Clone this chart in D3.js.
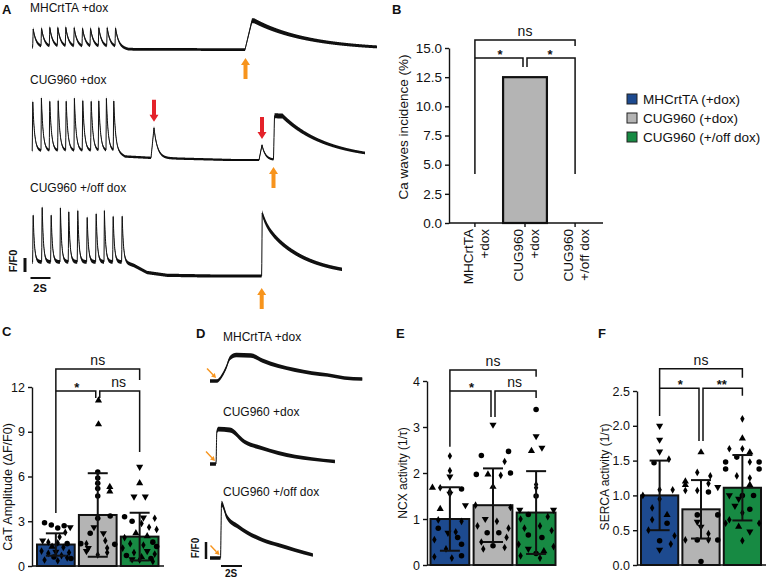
<!DOCTYPE html>
<html><head><meta charset="utf-8">
<script src="https://cdn.jsdelivr.net/npm/d3@7"></script>
<style>
body{margin:0;background:#fff}
text{font-family:"Liberation Sans",Arial,Helvetica,sans-serif;fill:#111}
</style>
</head><body>
<svg id="fig" width="766" height="578"></svg>
<script>
// ================= DATA =================
const groupNames = ["MHCrtTA (+dox)", "CUG960 (+dox)", "CUG960 (+/off dox)"];
const groupColors = ["#1d4a8f", "#b4b4b4", "#178a43"];

// ---- Panel A : Ca traces (time in s, signal in F/F0 scale-bar units) ----
const traceLabelsA = ["MHCrtTA +dox", "CUG960 +dox", "CUG960 +/off dox"];
const traceEndA = [34.5, 33.3, 31.0];
const paceTimesA1 = [0.07,0.9,1.73,2.53,3.33,4.17,5.0,5.8,6.63,7.47,8.3];
const paceAmpsA1  = [1.3,1.3,1.32,1.3,1.32,1.3,1.3,1.28,1.3,1.3,1.32];
const baseA1 = [[0,0.2],[8.4,0.2],[9.6,0.05],[34.5,0]];
const wavesA1 = [[21.3,2.07,0.7,0.2,5.5]];           // [onset, amp, rise, hold, tau]
const paceTimesA2 = [0.03,0.9,1.73,2.57,3.37,4.2,5.03,5.87,6.63,7.4,8.13];
const paceAmpsA2  = [3.7,3.75,3.7,3.75,3.7,3.72,3.75,3.7,3.72,3.7,3.7];
const baseA2 = [[0,0.65],[8.3,0.65],[9.3,0.25],[12,0.15],[20,0],[33.3,0]];
const wavesA2 = [[11.9,2.15,0.3,0,0.35],[22.7,1.07,0.3,0,0.35],[24.15,3.14,0.1,0.8,4.5]];
const paceTimesA3 = [0.07,0.97,1.87,2.8,3.63,4.53,5.47,6.37,7.2,8.07,8.97];
const paceAmpsA3  = [3.6,4.2,3.6,3.86,3.86,3.95,3.43,3.71,3.66,3.5,3.52];
const baseA3 = [[0,1.0],[9.2,1.0],[10.2,0.75],[11.5,0.25],[13.5,0.05],[18,0],[31,0]];
const wavesA3 = [[22.97,0.6,0.05,0,0.4],[22.97,3.9,0.05,0,3.8]];
const paceKineticsA = [[0.05,0.3],[0.04,0.18],[0.04,0.13]];   // [rise, tau]

// ---- Panel B : Ca waves incidence ----
const waveCategories = [["MHCrtTA","+dox"],["CUG960","+dox"],["CUG960","+/off dox"]];
const waveIncidence = [0, 12.5, 0];
const waveTicks = [0, 2.5, 5, 7.5, 10, 12.5, 15];

// ---- Panel C : CaT amplitude ----
const catMean = [1.44, 3.42, 1.97];
const catSD = [0.75, 2.8, 1.6];
const catTicks = [0, 3, 6, 9, 12];
const catPoints = [
 [[2.9,-0.3,'c'],[2.75,-0.12,'c'],[2.55,0.05,'c'],[2.7,0.22,'c'],[2.6,0.38,'v'],[2.25,0.25,'d'],[1.95,0.1,'d'],[1.7,-0.35,'v'],[1.6,-0.2,'d'],[1.55,0.05,'d'],[1.5,0.3,'c'],[1.3,-0.1,'u'],[1.25,0.2,'d'],[1.0,-0.38,'d'],[0.95,0.0,'v'],[0.9,0.35,'d'],[0.85,-0.2,'d'],[0.7,0.15,'d'],[0.6,-0.05,'c'],[0.55,0.3,'d'],[0.4,-0.3,'d'],[0.35,0.05,'d'],[0.5,0.4,'c']],
 [[11.1,0.02,'u'],[9.5,0.02,'u'],[6.3,0.0,'c'],[5.9,0.0,'c'],[5.55,0.0,'c'],[5.3,0.32,'u'],[5.2,0.0,'c'],[5.0,0.32,'u'],[4.7,0.0,'c'],[3.35,0.33,'c'],[3.2,0.0,'c'],[2.6,-0.1,'v'],[2.2,-0.2,'c'],[2.2,0.15,'v'],[1.7,0.2,'d'],[1.5,-0.3,'d'],[1.5,-0.45,'c'],[1.45,0.45,'c'],[1.2,-0.25,'v'],[1.2,0.25,'d'],[1.0,-0.3,'v'],[0.9,0.25,'d'],[0.75,0.0,'d']],
 [[6.65,0.0,'v'],[5.55,0.0,'u'],[4.65,-0.15,'v'],[4.65,0.15,'v'],[3.3,-0.4,'c'],[3.25,0.1,'v'],[3.2,0.4,'d'],[3.0,-0.2,'c'],[2.85,0.05,'d'],[2.6,0.25,'d'],[2.45,0.45,'d'],[2.2,-0.1,'u'],[2.0,0.2,'u'],[1.9,-0.4,'d'],[1.6,0.35,'c'],[1.5,-0.25,'d'],[1.4,0.1,'d'],[1.3,0.45,'c'],[1.2,-0.45,'d'],[1.0,0.2,'v'],[0.9,-0.15,'d'],[0.8,0.4,'d'],[0.7,-0.35,'c'],[0.6,0.05,'u'],[0.5,0.3,'c'],[0.45,-0.2,'v'],[0.4,0.0,'d'],[0.3,0.35,'d']]
];

// ---- Panel D : single-wave traces (time s, F/F0 units) ----
const traceLabelsD = ["MHCrtTA +dox", "CUG960 +dox", "CUG960 +/off dox"];
const traceD1 = [[0,0],[0.67,0],[1.0,0.18],[1.52,0.76],[1.9,1.35],[2.5,1.53],[3.9,1.5],[5.0,1.2],[6.5,0.88],[8.1,0.65],[9.7,0.47],[11.2,0.35],[12.8,0.18],[14.5,0.12]];
const traceD2 = [[0,0],[0.57,0],[0.65,1.9],[0.8,2.05],[1.9,2.0],[3.3,1.3],[4.9,0.94],[6.5,0.65],[8.1,0.43],[9.7,0.29],[11.9,0.14]];
const traceD3 = [[0,0],[1.0,0],[1.1,3.2],[1.6,2.43],[2.7,1.84],[5.0,1.06],[6.5,0.76],[8.1,0.47],[9.8,0.18]];
const onsetD = [0.67, 0.57, 1.0];

// ---- Panel E : NCX activity ----
const ncxMean = [1.0, 1.3, 1.14];
const ncxSD = [0.69, 0.8, 0.9];
const ncxTicks = [0, 1, 2, 3, 4];
const ncxPoints = [
 [[2.37,0.0,'d'],[2.05,0.0,'d'],[1.92,0.0,'v'],[1.68,-0.45,'u'],[1.68,-0.25,'d'],[1.65,0.3,'c'],[1.6,0.0,'d'],[1.55,0.0,'v'],[1.3,0.4,'v'],[1.22,-0.25,'u'],[0.98,-0.3,'d'],[0.95,0.3,'d'],[0.8,-0.3,'c'],[0.72,0.15,'d'],[0.7,-0.05,'v'],[0.6,0.2,'c'],[0.55,-0.4,'d'],[0.45,0.3,'c'],[0.35,-0.1,'d'],[0.2,0.3,'c'],[0.18,-0.4,'d'],[0.15,0.05,'d']],
 [[3.05,0.0,'v'],[2.47,0.4,'c'],[2.38,-0.3,'c'],[2.25,0.3,'d'],[1.97,-0.43,'c'],[2.0,0.45,'c'],[1.97,-0.13,'u'],[1.95,0.2,'d'],[1.7,0.0,'u'],[1.3,-0.45,'d'],[1.25,0.45,'d'],[1.0,-0.2,'v'],[0.95,0.1,'d'],[0.85,-0.4,'d'],[0.8,0.4,'d'],[0.7,-0.15,'c'],[0.7,0.15,'c'],[0.6,0.35,'d'],[0.5,-0.3,'d'],[0.42,0.0,'c'],[0.38,0.3,'d'],[0.35,-0.25,'d']],
 [[3.38,0.0,'c'],[2.8,0.0,'v'],[2.55,0.15,'v'],[2.48,-0.12,'u'],[1.75,0.0,'d'],[1.68,0.0,'d'],[1.5,0.0,'c'],[1.2,-0.42,'v'],[1.2,0.45,'v'],[1.1,-0.2,'c'],[1.05,0.3,'d'],[1.0,-0.4,'d'],[0.85,0.1,'d'],[0.8,-0.3,'d'],[0.75,0.4,'d'],[0.65,-0.2,'c'],[0.6,0.15,'c'],[0.45,-0.45,'d'],[0.4,0.45,'d'],[0.35,-0.2,'v'],[0.3,0.2,'u'],[0.25,0.0,'c'],[0.2,-0.4,'d'],[0.15,0.1,'d']]
];

// ---- Panel F : SERCA activity ----
const sercaMean = [1.0, 0.8, 1.11];
const sercaSD = [0.5, 0.42, 0.47];
const sercaTicks = [0, 0.5, 1.0, 1.5, 2.0, 2.5];
const sercaPoints = [
 [[2.0,0.0,'v'],[1.8,0.0,'v'],[1.63,0.0,'v'],[1.47,-0.15,'c'],[1.52,0.25,'d'],[1.08,0.0,'d'],[1.08,0.35,'d'],[1.0,-0.45,'d'],[0.95,0.0,'d'],[0.82,-0.2,'d'],[0.72,0.2,'u'],[0.65,-0.2,'d'],[0.6,0.2,'c'],[0.5,-0.3,'d'],[0.42,0.4,'d'],[0.35,0.0,'c'],[0.3,0.3,'d'],[0.22,0.0,'v']],
 [[1.62,0.0,'u'],[1.33,-0.1,'d'],[1.28,0.25,'d'],[1.2,-0.42,'u'],[1.15,-0.42,'u'],[1.17,0.2,'d'],[1.12,0.45,'v'],[1.07,-0.42,'d'],[1.07,-0.1,'d'],[1.05,0.2,'c'],[0.72,-0.1,'c'],[0.72,0.45,'c'],[0.62,-0.1,'v'],[0.55,0.0,'v'],[0.45,0.2,'d'],[0.36,-0.42,'d'],[0.36,-0.1,'c'],[0.36,0.2,'d'],[0.36,0.45,'c'],[0.05,0.0,'c']],
 [[2.1,0.0,'d'],[1.82,0.0,'u'],[1.67,-0.35,'d'],[1.67,0.0,'d'],[1.62,0.2,'u'],[1.55,-0.15,'c'],[1.48,-0.45,'c'],[1.48,0.45,'c'],[1.48,0.2,'d'],[1.38,-0.45,'c'],[1.38,0.45,'c'],[1.28,-0.15,'d'],[1.25,0.2,'d'],[1.15,0.2,'u'],[1.0,-0.35,'v'],[1.0,0.0,'c'],[1.0,0.3,'c'],[0.95,-0.1,'v'],[0.85,-0.2,'v'],[0.8,0.2,'c'],[0.75,0.0,'d'],[0.65,-0.35,'d'],[0.6,-0.45,'d'],[0.6,0.45,'d'],[0.55,-0.1,'u'],[0.48,0.2,'v'],[0.35,0.0,'d']]
];

// significance brackets: [top, topRightEnd, mid, leftEnd, midEnd, rightEnd] (data units) + labels
const sigB = [15.69, 15.17, 14.14, 4.2, 13.37, 4.2];   const sigLabB = ["ns","*","*"];
const sigC = [13.2, 12.47, 11.73, 3.55, 11.26, 7.64];  const sigLabC = ["ns","*","ns"];
const sigE = [4.24, 4.09, 3.78, 2.57, 3.22, 3.63];     const sigLabE = ["ns","*","ns"];
const sigF = [2.82, 2.69, 2.54, 2.14, 1.78, 2.43];     const sigLabF = ["ns","*","**"];

// ================= DRAWING =================
const svg = d3.select("#fig");
const ORANGE = "#f7941d", RED = "#e4222a";

function panelLetter(t, x, y){
  svg.append("text").attr("x", x).attr("y", y).text(t)
    .attr("font-size", 13).attr("font-weight", "bold");
}

function upArrow(g, x, yTip, len, color){
  const hw = 4.5, hl = 7, sw = 2;
  g.append("path").attr("fill", color)
   .attr("d", `M${x},${yTip} L${x+hw},${yTip+hl} L${x+sw},${yTip+hl} L${x+sw},${yTip+len} L${x-sw},${yTip+len} L${x-sw},${yTip+hl} L${x-hw},${yTip+hl} Z`);
}
function downArrow(g, x, yTip, len, color){
  const hw = 4.5, hl = 7, sw = 2;
  g.append("path").attr("fill", color)
   .attr("d", `M${x},${yTip} L${x+hw},${yTip-hl} L${x+sw},${yTip-hl} L${x+sw},${yTip-len} L${x-sw},${yTip-len} L${x-sw},${yTip-hl} L${x-hw},${yTip-hl} Z`);
}
function diagArrow(g, x1, y1, x2, y2, color){
  const ang = Math.atan2(y2-y1, x2-x1), hl = 4.5, hw = 2.6;
  const bx = x2 - hl*Math.cos(ang), by = y2 - hl*Math.sin(ang);
  g.append("line").attr("x1",x1).attr("y1",y1).attr("x2",bx).attr("y2",by)
   .attr("stroke", color).attr("stroke-width", 1.4);
  g.append("path").attr("fill", color).attr("d",
    `M${x2},${y2} L${bx - hw*Math.sin(ang)},${by + hw*Math.cos(ang)} L${bx + hw*Math.sin(ang)},${by - hw*Math.cos(ang)} Z`);
}

// ---------- Panel A ----------
panelLetter("A", 2, 14);
const gA = svg.append("g");
const traceCfgA = [
  {pace: paceTimesA1, amps: paceAmpsA1, kin: paceKineticsA[0], base: baseA1, waves: wavesA1, end: traceEndA[0]},
  {pace: paceTimesA2, amps: paceAmpsA2, kin: paceKineticsA[1], base: baseA2, waves: wavesA2, end: traceEndA[1]},
  {pace: paceTimesA3, amps: paceAmpsA3, kin: paceKineticsA[2], base: baseA3, waves: wavesA3, end: traceEndA[2]}
];
const restYA = [50, 160, 276], labelYA = [12, 84, 192];
const noiseA = [[1.35, 0.55], [1.1, 0.45], [1.6, 0.3]];
const xA = d3.scaleLinear().domain([0, 34.5]).range([32, 377]);

function kernel(t, ev){
  const [t0, amp, rise, hold, tau] = ev;
  if (t < t0) return 0;
  if (t < t0 + rise) return amp * (t - t0) / rise;
  if (t < t0 + rise + hold) return amp;
  return amp * Math.exp(-(t - t0 - rise - hold) / tau);
}
function traceValue(cfg, t){
  const base = d3.scaleLinear().domain(cfg.base.map(d => d[0])).range(cfg.base.map(d => d[1])).clamp(true);
  let v = base(t);
  cfg.pace.forEach((t0, i) => { v += kernel(t, [t0, cfg.amps[i], cfg.kin[0], 0, cfg.kin[1]]); });
  cfg.waves.forEach(ev => { v += kernel(t, ev); });
  return v;
}

traceCfgA.forEach((cfg, i) => {
  const y = d3.scaleLinear().domain([0, 1]).range([restYA[i], restYA[i] - 14]);
  const pts = d3.range(0, cfg.end + 1e-9, 0.02).map(t => [t, traceValue(cfg, t)]);
  const [n0, n1] = noiseA[i];
  gA.append("path").datum(pts)
    .attr("d", d3.area().x(d => xA(d[0])).y0(d => y(d[1]) + n0 + n1*Math.max(d[1],0)).y1(d => y(d[1]) - n0 - n1*Math.max(d[1],0)))
    .attr("fill", "#111");
  gA.append("path").datum(pts)
    .attr("d", d3.line().x(d => xA(d[0])).y(d => y(d[1])))
    .attr("fill", "none").attr("stroke", "#111").attr("stroke-width", 1);
  gA.append("text").attr("x", 30).attr("y", labelYA[i]).attr("font-size", 12).text(traceLabelsA[i]);
  // orange arrow under the big wave
  const big = cfg.waves[cfg.waves.length - 1];
  const gap = [8, 7, 12][i];
  upArrow(gA, xA(big[0]) + (i === 0 ? 0.5 : 0), restYA[i] + gap, 21, ORANGE);
  // red arrows over spontaneous events in CUG960 +dox
  if (i === 1) {
    cfg.waves.slice(0, 2).forEach(ev => {
      const tp = ev[0] + ev[2];
      downArrow(gA, xA(tp), y(traceValue(cfg, tp)) - 6, 22, RED);
    });
  }
});
// scale bars A
gA.append("line").attr("x1", 25).attr("x2", 25).attr("y1", 258).attr("y2", 272).attr("stroke", "#111").attr("stroke-width", 3);
gA.append("line").attr("x1", xA(-0.15)).attr("x2", xA(1.85)).attr("y1", 278).attr("y2", 278).attr("stroke", "#111").attr("stroke-width", 2);
gA.append("text").attr("transform", "translate(17,261) rotate(-90)").attr("text-anchor", "middle")
  .attr("font-size", 11).attr("font-weight", "bold").text("F/F0");
gA.append("text").attr("x", 40).attr("y", 292).attr("text-anchor", "middle")
  .attr("font-size", 11).attr("font-weight", "bold").text("2S");

// ---------- Panel B ----------
panelLetter("B", 392, 14);
const gB = svg.append("g");
const yB = d3.scaleLinear().domain([0, 15]).range([223, 48]);
const xB = d3.scaleBand().domain(d3.range(3)).range([453, 597]).paddingInner(0.125).paddingOuter(0);
gB.append("g").attr("transform", "translate(449,0)")
  .call(d3.axisLeft(yB).tickValues(waveTicks).tickFormat(d3.format(".1f")).tickSize(4).tickSizeOuter(0).tickPadding(3))
  .call(g => g.selectAll("text").attr("font-size", 13.5).style("font-family", "Liberation Sans, Arial, sans-serif").attr("fill", "#111"))
  .call(g => g.selectAll("line,path").attr("stroke", "#111").attr("stroke-width", 1.4));
gB.append("line").attr("x1", 449).attr("x2", 603).attr("y1", yB(0)).attr("y2", yB(0)).attr("stroke", "#111").attr("stroke-width", 1.4);
waveIncidence.forEach((v, i) => {
  const cx = xB(i) + xB.bandwidth()/2;
  gB.append("line").attr("x1", cx).attr("x2", cx).attr("y1", yB(0)).attr("y2", yB(0)+4).attr("stroke", "#111").attr("stroke-width", 1.4);
  if (v > 0) gB.append("rect").attr("x", xB(i)).attr("y", yB(v)).attr("width", xB.bandwidth()).attr("height", yB(0) - yB(v))
      .attr("fill", groupColors[i]).attr("stroke", "#111").attr("stroke-width", 2.2);
  waveCategories[i].forEach((line, k) => {
    gB.append("text").attr("transform", `translate(${cx + (k === 0 ? -7 : 9)},229) rotate(-90)`)
      .attr("text-anchor", "end").attr("dy", "0.35em").attr("font-size", 13.5).text(line);
  });
});
gB.append("text").attr("transform", "translate(403,127) rotate(-90)").attr("text-anchor", "middle")
  .attr("dy", "0.35em").attr("font-size", 13.5).text("Ca waves incidence (%)");

// legend
groupNames.forEach((n, i) => {
  const yy = 99 + i * 19;
  svg.append("rect").attr("x", 627).attr("y", yy - 5).attr("width", 10).attr("height", 10)
    .attr("fill", groupColors[i]).attr("stroke", "#222").attr("stroke-width", 1);
  svg.append("text").attr("x", 643).attr("y", yy).attr("dy", "0.36em").attr("font-size", 13.5).text(n);
});

function brackets(g, xc, y, sig, labs, fs){
  const [top, topR, mid, lEnd, mEnd, rEnd] = sig;
  const [x0, x1, x2] = xc;
  g.append("path").attr("fill", "none").attr("stroke", "#111").attr("stroke-width", 1.5)
    .attr("d", `M${x0},${y(lEnd)} V${y(top)} H${x2} V${y(topR)}`);
  g.append("path").attr("fill", "none").attr("stroke", "#111").attr("stroke-width", 1.5)
    .attr("d", `M${x0},${y(mid)} H${x1-2} V${y(mEnd)} M${x1+2},${y(mEnd)} V${y(mid)} H${x2} V${y(rEnd)}`);
  g.append("text").attr("x", x1).attr("y", y(top) - 4).attr("text-anchor", "middle").attr("font-size", fs).text(labs[0]);
  [[labs[1], (x0+x1)/2], [labs[2], (x1+x2)/2]].forEach(([t, xx]) => {
    const star = t.indexOf("*") >= 0;
    g.append("text").attr("x", xx).attr("y", y(mid) + (star ? 1 : -4)).attr("text-anchor", "middle")
      .attr("font-size", star ? fs - 1 : fs).attr("font-weight", star ? "bold" : "normal").text(t);
  });
}
brackets(gB, d3.range(3).map(i => xB(i) + xB.bandwidth()/2), yB, sigB, sigLabB, 14);

// ---------- Bar+scatter panels C, E, F ----------
const shapeType = {c: d3.symbolCircle, u: d3.symbolTriangle, v: d3.symbolTriangle, d: d3.symbolDiamond};
const shapeSize = {c: 24, u: 22, v: 22, d: 17};

function barPanel(cfg){
  const g = svg.append("g");
  const y = d3.scaleLinear().domain(cfg.yDomain).range(cfg.yRange);
  const x = d3.scaleBand().domain(d3.range(3)).range(cfg.xRange).paddingInner(0.1).paddingOuter(0);
  const bw = x.bandwidth();
  g.append("g").attr("transform", `translate(${cfg.axisX},0)`)
    .call(d3.axisLeft(y).tickValues(cfg.ticks).tickFormat(cfg.fmt).tickSize(4).tickSizeOuter(0).tickPadding(3))
    .call(a => a.selectAll("text").attr("font-size", 12.5).style("font-family", "Liberation Sans, Arial, sans-serif").attr("fill", "#111"))
    .call(a => a.selectAll("line,path").attr("stroke", "#111").attr("stroke-width", 1.4));
  g.append("line").attr("x1", cfg.axisX).attr("x2", cfg.xEnd).attr("y1", y(0)).attr("y2", y(0)).attr("stroke", "#111").attr("stroke-width", 1.6);
  cfg.means.forEach((m, i) => {
    g.append("rect").attr("x", x(i)).attr("y", y(m)).attr("width", bw).attr("height", y(0) - y(m))
      .attr("fill", groupColors[i]).attr("stroke", "#111").attr("stroke-width", 2);
  });
  cfg.points.forEach((arr, i) => {
    const cx = x(i) + bw/2;
    arr.forEach(([v, j, s]) => {
      g.append("path").attr("d", d3.symbol().type(shapeType[s]).size(shapeSize[s])())
        .attr("transform", `translate(${cx + j*bw},${y(v)})${s === 'v' ? ' rotate(180)' : ''}`)
        .attr("fill", "#000");
    });
  });
  cfg.means.forEach((m, i) => {
    const cx = x(i) + bw/2, lo = m - cfg.sds[i], hi = m + cfg.sds[i];
    g.append("line").attr("x1", cx).attr("x2", cx).attr("y1", y(lo)).attr("y2", y(hi)).attr("stroke", "#111").attr("stroke-width", 2);
    [lo, hi].forEach(v => g.append("line").attr("x1", cx - 10).attr("x2", cx + 10).attr("y1", y(v)).attr("y2", y(v))
      .attr("stroke", "#111").attr("stroke-width", 2));
  });
  brackets(g, d3.range(3).map(i => x(i) + bw/2), y, cfg.sig, cfg.sigLab, 14);
  g.append("text").attr("transform", `translate(${cfg.labelPos[0]},${cfg.labelPos[1]}) rotate(-90)`)
    .attr("text-anchor", "middle").attr("dy", "0.35em").attr("font-size", cfg.labelSize).text(cfg.label);
}

panelLetter("C", 2, 336);
barPanel({yDomain: [0, 12], yRange: [566, 387], ticks: catTicks, fmt: d3.format("d"), axisX: 32, xEnd: 164,
  xRange: [37, 158.5], means: catMean, sds: catSD, points: catPoints, sig: sigC, sigLab: sigLabC,
  label: "CaT Amplitude (\u0394F/F0)", labelPos: [8, 487], labelSize: 12.5});

panelLetter("E", 396, 338);
barPanel({yDomain: [0, 4], yRange: [565, 381], ticks: ncxTicks, fmt: d3.format("d"), axisX: 427, xEnd: 555,
  xRange: [430.5, 555.5], means: ncxMean, sds: ncxSD, points: ncxPoints, sig: sigE, sigLab: sigLabE,
  label: "NCX activity (1/\u03C4)", labelPos: [403, 473], labelSize: 12});

panelLetter("F", 598, 338);
barPanel({yDomain: [0, 2.5], yRange: [565, 391], ticks: sercaTicks, fmt: d3.format(".1f"), axisX: 637, xEnd: 766,
  xRange: [641, 761], means: sercaMean, sds: sercaSD, points: sercaPoints, sig: sigF, sigLab: sigLabF,
  label: "SERCA activity (1/\u03C4)", labelPos: [605, 477], labelSize: 12});

// ---------- Panel D ----------
panelLetter("D", 196, 338);
const gD = svg.append("g");
const xD = d3.scaleLinear().domain([0, 1]).range([210, 220.5]);
const restYD = [381, 464, 558], labelYD = [341, 416, 496];
[traceD1, traceD2, traceD3].forEach((tr, i) => {
  const y = d3.scaleLinear().domain([0, 1]).range([restYD[i], restYD[i] - 17]);
  const hw = v => 1.7 + 0.35 * Math.max(v, 0);
  gD.append("path").datum(tr).attr("fill", "#111")
    .attr("d", d3.area().curve(d3.curveMonotoneX).x(d => xD(d[0])).y0(d => y(d[1]) + hw(d[1])).y1(d => y(d[1]) - hw(d[1])));
  gD.append("path").datum(tr).attr("fill", "none").attr("stroke", "#111").attr("stroke-width", 1)
    .attr("d", d3.line().curve(d3.curveMonotoneX).x(d => xD(d[0])).y(d => y(d[1])));
  gD.append("text").attr("x", 223).attr("y", labelYD[i]).attr("font-size", 12).text(traceLabelsD[i]);
  const tx = xD(onsetD[i]) - 1, ty = y(0) - 3;
  diagArrow(gD, tx - 9, ty - 9.5, tx, ty, ORANGE);
});
gD.append("line").attr("x1", 206).attr("x2", 206).attr("y1", 542).attr("y2", 559).attr("stroke", "#111").attr("stroke-width", 2.5);
gD.append("line").attr("x1", xD(1.05)).attr("x2", xD(3.05)).attr("y1", 566).attr("y2", 566).attr("stroke", "#111").attr("stroke-width", 2);
gD.append("text").attr("transform", "translate(199,548) rotate(-90)").attr("text-anchor", "middle")
  .attr("font-size", 10).attr("font-weight", "bold").text("F/F0");
gD.append("text").attr("x", 231).attr("y", 577).attr("text-anchor", "middle")
  .attr("font-size", 10).attr("font-weight", "bold").text("2S");
</script>
</body></html>
